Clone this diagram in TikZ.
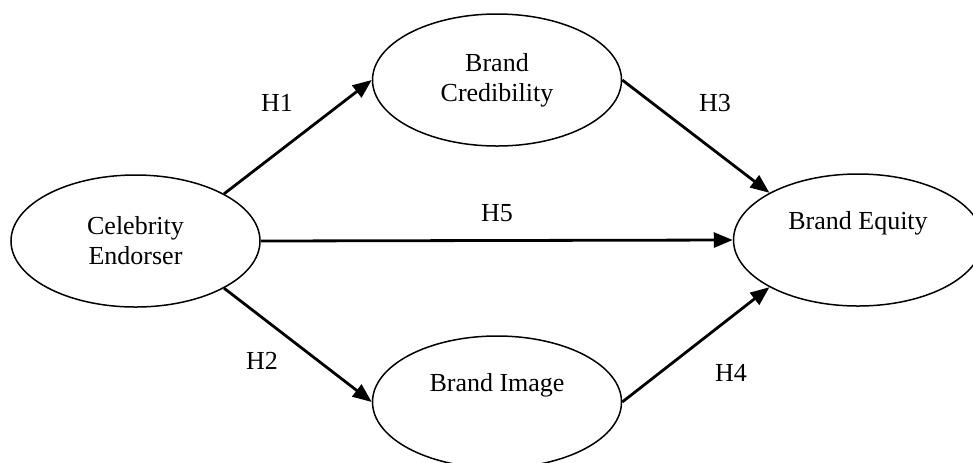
\documentclass[tikz,border=0pt]{standalone}
\usepackage{fontspec}
\setmainfont{Liberation Serif}
\usetikzlibrary{shapes.geometric,arrows.meta}
\begin{document}
\begin{tikzpicture}[x=0.5pt,y=-0.5pt, font=\fontsize{13}{15}\selectfont,
    construct/.style={draw, ellipse, line width=0.75pt, minimum width=124.5pt, minimum height=66pt, inner sep=0pt, align=center},
    every edge/.style={draw, line width=1.4pt, -{Triangle[length=9.5pt,width=7.5pt]}}]
            \useasboundingbox (0,0) rectangle (973,462);
            \node [construct] (CE) at (135.5,241) {Celebrity\\Endorser};
            \node [construct] (BC) at (497,80) {Brand\\Credibility};
            \node [construct] (BI) at (497,402) {Brand Image\\\strut};
            \node [construct] (BE) at (858,240) {Brand Equity\\\strut};
            \path (CE.north east) edge (BC.west);
            \path (CE.south east) edge (BI.west);
            \path (CE.east) edge (BE.west);
            \path (BC.east) edge (BE.north west);
            \path (BI.east) edge (BE.south west);
            \node (H1) at (277,103) {H1};
            \node (H2) at (262,361) {H2};
            \node (H3) at (715,103) {H3};
            \node (H4) at (731,373) {H4};
            \node (H5) at (497,213) {H5};
        \end{tikzpicture}
\end{document}
